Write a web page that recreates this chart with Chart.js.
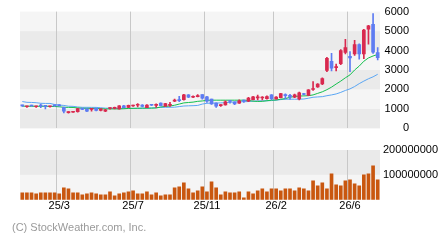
<!DOCTYPE html>
<html><head><meta charset="utf-8">
<script src="https://cdn.jsdelivr.net/npm/chart.js@4.4.1/dist/chart.umd.min.js"></script>
<style>
html,body{margin:0;padding:0;background:#fff;width:440px;height:240px;overflow:hidden;font-family:"Liberation Sans",Arial,sans-serif;}
#p{position:absolute;left:0;top:0;}
#v{position:absolute;left:0;top:140px;}
#c{position:absolute;left:12px;top:221px;font-size:11px;color:#9a9a9a;white-space:nowrap;}
</style></head><body>
<canvas id="p" width="440" height="140"></canvas>
<canvas id="v" width="440" height="100"></canvas>
<div id="c">(C) StockWeather.com, Inc.</div>
<script>
// month of each weekly candle
const weeks = ['25/1','25/1','25/1','25/1','25/2','25/2','25/2','25/2','25/3','25/3','25/3','25/3',
'25/4','25/4','25/4','25/4','25/5','25/5','25/5','25/5','25/6','25/6','25/6','25/6',
'25/7','25/7','25/7','25/7','25/8','25/8','25/8','25/8','25/9','25/9','25/9','25/9',
'25/10','25/10','25/10','25/10','25/11','25/11','25/11','25/11','25/11','25/12','25/12','25/12','25/12','25/12',
'26/1','26/1','26/1','26/1','26/1','26/2','26/2','26/2','26/2','26/3','26/3','26/3','26/3',
'26/4','26/4','26/4','26/4','26/5','26/5','26/5','26/5','26/6','26/6','26/6','26/6','26/7','26/7','26/7'];
const shownMonths = ['25/3','25/7','25/11','26/2','26/6'];
const priceTicks = [0,1000,2000,3000,4000,5000,6000];
const volumeTicks = [100000000,200000000];

const open  = [1180,1110,1180,1110,1170,1150,1110,1200,1190,1080, 810, 830, 860,1030,1000, 980,1030, 920, 880,1020,
               1030,1000,1160,1080,1150,1190,1200,1070,1210,1180,1300,1140,1180,1400,1460,1470,1730,1600,1630,1733,
               1620,1500,1300,1170,1200,1400,1350,1290,1420,1400,1480,1570,1560,1530,1720,1520,1580,1700,1700,1600,
               1520,1770,1700,2000,2130,2280,2980,3450,3120,3330,3900,3700,3830,4300,3830,5100,5350,3900];
const high  = [1200,1150,1200,1150,1250,1160,1150,1210,1220,1100, 870, 870,1030,1040,1010,1010,1040,1010, 980,1070,
               1100,1170,1180,1200,1200,1280,1220,1220,1230,1260,1310,1290,1333,1500,1650,1750,1740,1667,1733,1740,
               1650,1510,1310,1230,1420,1420,1370,1467,1460,1590,1650,1717,1640,1667,1733,1633,1800,1780,1750,1760,
               1870,1800,2000,2400,2300,2600,3650,3850,3300,4050,4580,3950,4520,4350,5090,5300,5900,4150];
const low   = [1130,1080,1140,1080,1060,1000,1090,1140,1150, 800, 780, 820, 830, 960, 860, 880, 900, 900, 860, 990,
               1000, 990,1060,1060,1130,1100,1100,1060,1170,1080,1160,1130,1133,1367,1367,1450,1580,1583,1617,1500,
               1330,1230,1083,1133,1190,1300,1220,1283,1333,1370,1460,1467,1467,1500,1470,1500,1560,1520,1500,1580,
               1460,1720,1680,1950,2100,2250,2920,2950,2950,3270,3830,2920,3750,3550,3580,4330,3850,3520];
const close = [1160,1130,1150,1130,1150,1130,1130,1160,1160, 880, 830, 850,1020, 980, 880,1000, 920,1000, 960,1050,
               1050,1160,1070,1190,1170,1210,1130,1200,1190,1200,1170,1280,1210,1430,1430,1730,1600,1640,1660,1550,
               1400,1260,1140,1190,1370,1380,1260,1420,1400,1560,1620,1600,1590,1640,1530,1610,1790,1680,1620,1730,
               1830,1740,1980,2050,2280,2560,3600,3100,3170,4000,4150,3620,4300,3830,5050,5270,3920,3630];
const maShort = [1140,1140,1135,1135,1135,1135,1130,1125,1110,1085,1080,1075,1050,1035,1030,1030,1025,1010,1000,1000,
                 1000,1000,1010,1025,1030,1035,1040,1040,1040,1050,1100,1130,1150,1190,1250,1310,1330,1350,1390,1410,
                 1440,1450,1450,1450,1450,1450,1450,1450,1450,1440,1400,1385,1390,1420,1450,1460,1500,1530,1600,1640,
                 1660,1670,1680,1720,1800,1880,1990,2120,2280,2430,2600,2750,3000,3200,3450,3620,3720,3800];
const maLong  = [1380,1340,1333,1320,1290,1283,1283,1230,1200,1180,1140,1133,1100,1083,1083,1080,1080,1060,1040,1033,
                 1033,1033,1030,1030,1030,1030,1035,1040,1050,1060,1080,1083,1085,1090,1120,1150,1160,1167,1180,1250,
                 1290,1300,1300,1310,1320,1340,1360,1367,1370,1380,1400,1410,1417,1420,1430,1450,1480,1500,1500,1500,
                 1500,1510,1550,1600,1617,1630,1680,1720,1770,1850,1950,2030,2150,2300,2430,2550,2650,2780];
const volume = [28,28,28,24,28,28,28,28,24,48,44,28,28,20,24,28,24,20,20,32,
                16,24,28,32,36,24,24,32,20,28,16,20,20,48,52,68,44,28,36,52,
                32,72,48,20,32,28,28,32,8,32,24,36,44,32,44,44,36,44,44,36,
                48,44,36,76,56,68,44,104,60,56,76,80,64,56,100,104,136,80].map(v => v * 1000000);

const RED = '#d9294f', BLUE = '#5e7cf2';
const candleColors = open.map((o, i) => close[i] >= o ? RED : BLUE);
const isMark = i => (i === 0 || weeks[i] !== weeks[i - 1]) && shownMonths.includes(weeks[i]);

Chart.defaults.font.family = '"Liberation Sans", Arial, sans-serif';
Chart.defaults.font.size = 11;
Chart.defaults.color = '#000';

const bands = {
  id: 'bands',
  beforeDraw(chart, args, opts) {
    const {ctx, chartArea: a} = chart;
    const y = chart.scales.y;
    ctx.save();
    for (let k = 0; k < opts.stops.length - 1; k++) {
      const y1 = y.getPixelForValue(opts.stops[k + 1]);
      const y2 = y.getPixelForValue(opts.stops[k]);
      ctx.fillStyle = opts.colors[k % 2];
      ctx.fillRect(a.left, y1, a.right - a.left, y2 - y1);
    }
    ctx.restore();
  }
};

const xGrid = {
  offset: true,
  drawTicks: false,
  lineWidth: 1,
  color: c => isMark(c.index) ? '#c8c8c8' : 'rgba(0,0,0,0)'
};

new Chart(document.getElementById('p'), {
  type: 'bar',
  data: {
    labels: weeks,
    datasets: [
      {type: 'bar', data: open.map((o, i) => [o, close[i]]), backgroundColor: candleColors,
       barThickness: 3, grouped: false, minBarLength: 1, borderWidth: 0, order: 0},
      {type: 'bar', data: low.map((l, i) => [l, high[i]]), backgroundColor: candleColors,
       barThickness: 1, grouped: false, borderWidth: 0, order: 1},
      {type: 'line', data: maShort, borderColor: '#14c04e', borderWidth: 1, pointRadius: 0, tension: 0, order: 2},
      {type: 'line', data: maLong, borderColor: '#5aa6f4', borderWidth: 1, pointRadius: 0, tension: 0, order: 3}
    ]
  },
  options: {
    responsive: false, animation: false, devicePixelRatio: 1, events: [],
    layout: {padding: {left: 20, top: 10, right: 31, bottom: 10}},
    plugins: {legend: {display: false}, tooltip: {enabled: false},
      bands: {stops: priceTicks, colors: ['#eaeaea', '#f5f5f5']}},
    scales: {
      x: {offset: true, grid: xGrid, border: {display: false}, ticks: {display: false}},
      y: {position: 'right', min: 0, max: 6000,
        afterBuildTicks: s => { s.ticks = priceTicks.map(v => ({value: v})); },
        afterFit: s => { s.width = 29; },
        grid: {display: false, drawTicks: false}, border: {display: false},
        ticks: {crossAlign: 'far', padding: 5, color: '#000', callback: v => String(v)}}
    }
  },
  plugins: [bands]
});

new Chart(document.getElementById('v'), {
  type: 'bar',
  data: {
    labels: weeks,
    datasets: [{data: volume, backgroundColor: '#c9570f', barThickness: 3, borderWidth: 0}]
  },
  options: {
    responsive: false, animation: false, devicePixelRatio: 1, events: [],
    layout: {padding: {left: 20, top: 10, right: 0, bottom: 27}},
    plugins: {legend: {display: false}, tooltip: {enabled: false},
      bands: {stops: [0].concat(volumeTicks), colors: ['#f5f5f5', '#eaeaea']}},
    scales: {
      x: {offset: true, grid: xGrid, border: {display: false},
        ticks: {autoSkip: false, maxRotation: 0, minRotation: 0, padding: 0, color: '#000',
          callback: (v, i) => isMark(i) ? weeks[i] : ''}},
      y: {position: 'right', min: 0, max: 200000000,
        afterBuildTicks: s => { s.ticks = volumeTicks.map(v => ({value: v})); },
        afterFit: s => { s.width = 60; },
        grid: {display: false, drawTicks: false}, border: {display: false},
        ticks: {padding: 3, color: '#000', callback: v => String(v)}}
    }
  },
  plugins: [bands]
});
</script>
</body></html>
